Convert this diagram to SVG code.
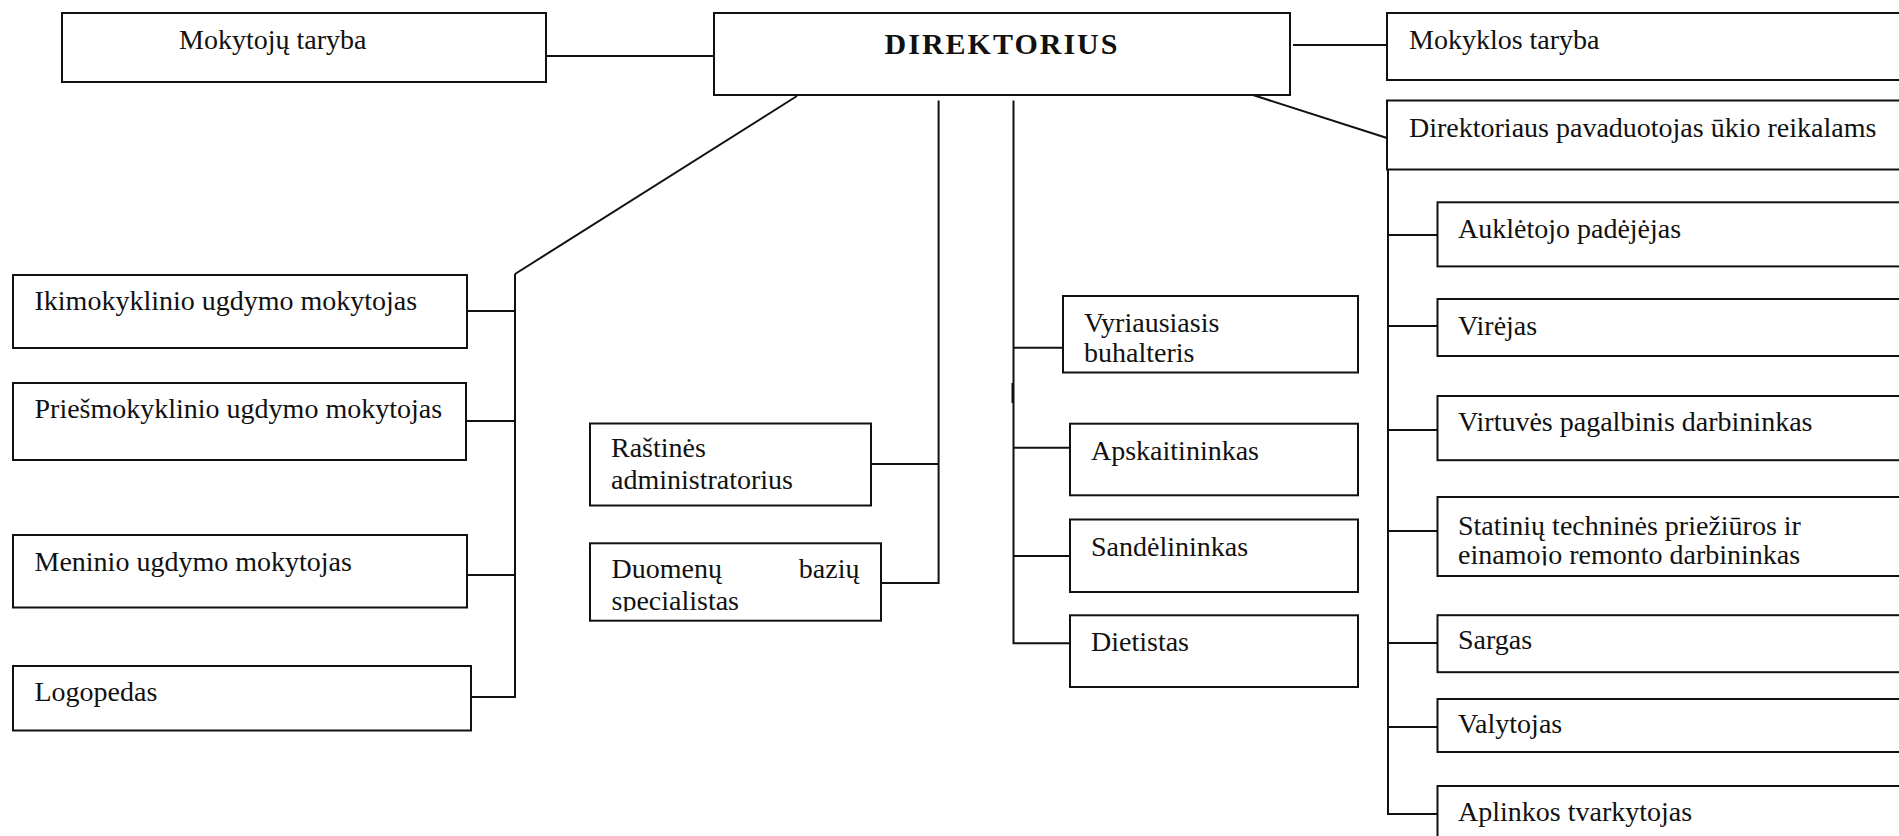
<svg xmlns="http://www.w3.org/2000/svg" width="1899" height="836" viewBox="0 0 1899 836">
<style>
.box{fill:#fff;stroke:#111;stroke-width:2}
.t{font-family:"Liberation Serif","Times New Roman",serif;font-size:28px;fill:#111}
.b{font-family:"Liberation Serif","Times New Roman",serif;font-size:30px;font-weight:bold;letter-spacing:2px;fill:#111}
.ln{stroke:#111;stroke-width:2;fill:none}
</style>
<defs>
<clipPath id="clipDuom"><rect x="590" y="544" width="290" height="67.5"/></clipPath>
<clipPath id="clipStat"><rect x="1438" y="498" width="470" height="67.5"/></clipPath>
</defs>
<rect width="1899" height="836" fill="#fff"/>
<g id="connectors">
<line class="ln" x1="546" y1="56" x2="714" y2="56"/>
<line class="ln" x1="1293" y1="45" x2="1387" y2="45"/>
<line class="ln" x1="797" y1="96" x2="515" y2="274"/>
<polyline class="ln" points="515,274 515,697 471,697"/>
<line class="ln" x1="467" y1="311" x2="515" y2="311"/>
<line class="ln" x1="466" y1="421" x2="515" y2="421"/>
<line class="ln" x1="467" y1="575" x2="515" y2="575"/>
<polyline class="ln" points="938.6,100.5 938.6,583 881,583"/>
<line class="ln" x1="871" y1="464" x2="938.6" y2="464"/>
<polyline class="ln" points="1013.5,100.5 1013.5,643.3 1070,643.3"/>
<rect x="1011.5" y="383" width="2" height="20" fill="#111"/>
<line class="ln" x1="1013.5" y1="347.7" x2="1063" y2="347.7"/>
<line class="ln" x1="1013.5" y1="447.7" x2="1070" y2="447.7"/>
<line class="ln" x1="1013.5" y1="556" x2="1070" y2="556"/>
<line class="ln" x1="1253" y1="95" x2="1387" y2="138"/>
<polyline class="ln" points="1388,169.5 1388,814 1437,814"/>
<line class="ln" x1="1388" y1="235" x2="1437" y2="235"/>
<line class="ln" x1="1388" y1="326" x2="1437" y2="326"/>
<line class="ln" x1="1388" y1="430" x2="1437" y2="430"/>
<line class="ln" x1="1388" y1="531" x2="1437" y2="531"/>
<line class="ln" x1="1388" y1="643" x2="1437" y2="643"/>
<line class="ln" x1="1388" y1="727" x2="1437" y2="727"/>
</g>
<g id="mokytoju-taryba"><rect class="box" x="62" y="13" width="484" height="69"/><text class="t" x="179" y="49">Mokytojų taryba</text></g>
<g id="direktorius"><rect class="box" x="714" y="13" width="576" height="82"/><text class="b" x="1002" y="54" text-anchor="middle">DIREKTORIUS</text></g>
<g id="mokyklos-taryba"><rect class="box" x="1387" y="13" width="530" height="67"/><text class="t" x="1409" y="49">Mokyklos taryba</text></g>
<g id="pavaduotojas"><rect class="box" x="1387" y="100.5" width="530" height="69"/><text class="t" x="1409" y="137">Direktoriaus pavaduotojas ūkio reikalams</text></g>
<g id="ikimokyklinio"><rect class="box" x="13" y="275" width="454" height="73"/><text class="t" x="34.5" y="310">Ikimokyklinio ugdymo mokytojas</text></g>
<g id="priesmokyklinio"><rect class="box" x="13" y="383" width="453" height="77"/><text class="t" x="34.5" y="418">Priešmokyklinio ugdymo mokytojas</text></g>
<g id="meninio"><rect class="box" x="13" y="535" width="454" height="72.5"/><text class="t" x="34.5" y="571">Meninio ugdymo mokytojas</text></g>
<g id="logopedas"><rect class="box" x="13" y="666" width="458" height="64.5"/><text class="t" x="34.5" y="700.5">Logopedas</text></g>
<g id="rastines"><rect class="box" x="590" y="423.5" width="281" height="82"/><text class="t" x="611" y="457">Raštinės</text><text class="t" x="611" y="489">administratorius</text></g>
<g id="duomenu"><rect class="box" x="590" y="543.3" width="291" height="77.4"/><g clip-path="url(#clipDuom)"><text class="t" x="611.5" y="577.7">Duomenų</text><text class="t" x="859.5" y="577.7" text-anchor="end">bazių</text><text class="t" x="611.5" y="609.5">specialistas</text></g></g>
<g id="vyriausiasis"><rect class="box" x="1063" y="296" width="295" height="76.5"/><text class="t" x="1084" y="331.7">Vyriausiasis</text><text class="t" x="1084" y="361.7">buhalteris</text></g>
<g id="apskaitininkas"><rect class="box" x="1070" y="423.7" width="288" height="71.6"/><text class="t" x="1091" y="460">Apskaitininkas</text></g>
<g id="sandelininkas"><rect class="box" x="1070" y="519.5" width="288" height="72.5"/><text class="t" x="1091" y="556">Sandėlininkas</text></g>
<g id="dietistas"><rect class="box" x="1070" y="615.3" width="288" height="71.7"/><text class="t" x="1091" y="650.7">Dietistas</text></g>
<g id="aukletojo"><rect class="box" x="1437.5" y="202.3" width="480" height="64.1"/><text class="t" x="1458" y="238">Auklėtojo padėjėjas</text></g>
<g id="virejas"><rect class="box" x="1437.5" y="299" width="480" height="57"/><text class="t" x="1458" y="335">Virėjas</text></g>
<g id="virtuves"><rect class="box" x="1437.5" y="396" width="480" height="64.2"/><text class="t" x="1458" y="431">Virtuvės pagalbinis darbininkas</text></g>
<g id="statiniu"><rect class="box" x="1437.5" y="497" width="480" height="79"/><g clip-path="url(#clipStat)"><text class="t" x="1458" y="535">Statinių techninės priežiūros ir</text><text class="t" x="1458" y="563.5">einamojo remonto darbininkas</text></g></g>
<g id="sargas"><rect class="box" x="1437.5" y="615.2" width="480" height="57"/><text class="t" x="1458" y="649">Sargas</text></g>
<g id="valytojas"><rect class="box" x="1437.5" y="699" width="480" height="53"/><text class="t" x="1458" y="733">Valytojas</text></g>
<g id="aplinkos"><rect class="box" x="1437.5" y="786" width="480" height="80"/><text class="t" x="1458" y="821">Aplinkos tvarkytojas</text></g>
</svg>
